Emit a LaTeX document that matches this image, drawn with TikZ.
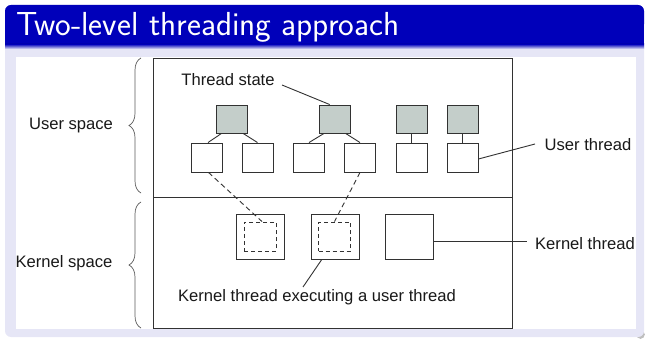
\documentclass[tikz,border=0pt]{standalone}
\usepackage{fontspec}
\newfontfamily\arialf{Liberation Sans}
\usetikzlibrary{calc,decorations.pathreplacing}
\definecolor{bblue}{RGB}{0,0,186}
\definecolor{blav}{RGB}{230,230,246}
\definecolor{lnc}{RGB}{50,50,50}
\definecolor{tsfill}{RGB}{196,206,202}
\definecolor{txc}{RGB}{25,25,25}
\tikzset{
  ln/.style={draw=lnc, line width=0.9pt},
  tsbox/.style={ln, fill=tsfill, minimum width=31pt, minimum height=28pt, inner sep=0pt},
  utbox/.style={ln, fill=white, minimum width=31pt, minimum height=29pt, inner sep=0pt},
  ktbox/.style={ln, fill=white, minimum width=48pt, minimum height=45pt, inner sep=0pt},
  inbox/.style={ln, dashed, dash pattern=on 4pt off 3pt, minimum width=32pt, minimum height=29pt, inner sep=0pt},
  lbl/.style={text=txc, inner sep=0pt, font=\arialf\fontsize{16.6}{19}\selectfont},
  dconn/.style={ln, dash pattern=on 5pt off 3.5pt},
  brc/.style={draw=lnc!80, line width=0.7pt, decorate, decoration={brace, amplitude=12pt}}
}
\begin{document}
\begin{tikzpicture}[x=1pt,y=-1pt]
\useasboundingbox (0,0) rectangle (645,339);
% block
\fill[gray!50] (636,330) [rounded corners=5pt] rectangle (645,339);
\fill[blav, rounded corners=6pt] (5,5) rectangle (644,337);
\fill[bblue, rounded corners=6pt] (5,5) rectangle (644,30);
\fill[bblue] (5,20) rectangle (644,44);
\shade[top color=bblue, bottom color=blav] (5,44) rectangle (644,49);
\fill[white] (16,57) rectangle (636,329);
\node[anchor=base west, text=white, inner sep=0pt, font=\sffamily\fontsize{33.3}{38}\selectfont] (title) at (16,36) {Two-level threading approach};
% frame
\draw[ln] (153,58) rectangle (512,328);
\draw[ln] (153,197) -- (512,197);
% braces
\draw[brc] (141,193) -- (141,58);
\draw[brc] (141,328) -- (141,202);
\node[lbl] (us) at (71,126) {User space};
\node[lbl] (ks) at (64,263) {Kernel space};
% thread states
\node[tsbox] (g1) at (232,119) {};
\node[tsbox] (g2) at (334.5,119) {};
\node[tsbox] (g3) at (411.5,119) {};
\node[tsbox] (g4) at (462.5,119) {};
% user threads
\node[utbox] (w1) at (206.5,157.5) {};
\node[utbox] (w2) at (257.5,157.5) {};
\node[utbox] (w3) at (309,157.5) {};
\node[utbox] (w4) at (360,157.5) {};
\node[utbox] (w5) at (411.5,157.5) {};
\node[utbox] (w6) at (462.5,157.5) {};
\draw[ln] ($(g1.south west)!0.17!(g1.south east)$) -- ([xshift=1.5pt]w1.north);
\draw[ln] ($(g1.south west)!0.85!(g1.south east)$) -- (w2.north);
\draw[ln] ($(g2.south west)!0.17!(g2.south east)$) -- (w3.north);
\draw[ln] ($(g2.south west)!0.85!(g2.south east)$) -- (w4.north);
\draw[ln] (g3.south) -- (w5.north);
\draw[ln] (g4.south) -- (w6.north);
% kernel threads
\node[ktbox] (k1) at (260,236.5) {};
\node[inbox] (d1) at (260,236.5) {};
\node[ktbox] (k2) at (335,236.5) {};
\node[inbox] (d2) at (334.5,236.5) {};
\node[ktbox] (k3) at (409.5,236.5) {};
\draw[dconn] ([xshift=2pt]w1.south) -- ([xshift=2pt]d1.north);
\draw[dconn] (w4.south) -- (d2.north);
% labels
\node[lbl] (ts) at (228,80) {Thread state};
\coordinate (tsend) at (282,85);
\draw[ln] (tsend) -- ($(g2.north west)!0.35!(g2.north east)$);
\node[lbl] (ut) at (588,145) {User thread};
\coordinate (utend) at (535,144);
\draw[ln] ([yshift=-1.5pt]w6.east) -- (utend);
\node[lbl] (kt) at (585,244) {Kernel thread};
\coordinate (ktend) at (527,241.5);
\draw[ln] (k3.east |- ktend) -- (ktend);
\node[lbl] (ke) at (317,297) {Kernel thread executing a user thread};
\coordinate (keend) at (303,287);
\draw[ln] ($(k2.south west)!0.23!(k2.south east)$) -- (keend);
\end{tikzpicture}
\end{document}
